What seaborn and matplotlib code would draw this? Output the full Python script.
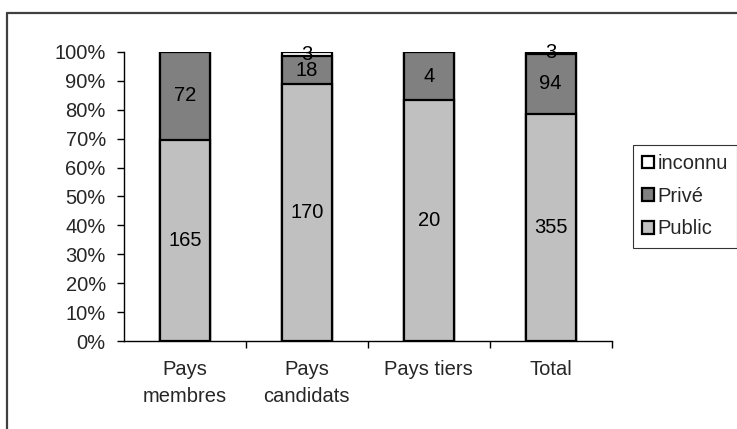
"""
Répartition Public / Privé / inconnu par groupe de pays
(barres empilées à 100 %)
"""

import numpy as np
import pandas as pd
import matplotlib
matplotlib.use("Agg")
import matplotlib.pyplot as plt
import seaborn as sns
from matplotlib.patches import Patch
from matplotlib.lines import Line2D

sns.set_style("white")
plt.rcParams["font.family"] = ["Liberation Sans", "DejaVu Sans"]

CATEGORIES = ["Pays\nmembres", "Pays\ncandidats", "Pays tiers", "Total"]
PUBLIC = [165, 170, 20, 355]
PRIVE = [72, 18, 4, 94]
INCONNU = [0, 3, 0, 3]

SERIES = ["Public", "Privé", "inconnu"]
COLORS = {"Public": "#c0c0c0", "Privé": "#808080", "inconnu": "#ffffff"}
FS = 14.5


def build_frame() -> pd.DataFrame:
    df = pd.DataFrame({"cat": CATEGORIES, "Public": PUBLIC,
                       "Privé": PRIVE, "inconnu": INCONNU})
    total = df[SERIES].sum(axis=1)
    for s in SERIES:
        df[s + "_pct"] = df[s] / total * 100
    df["cum_Public"] = df["Public_pct"]
    df["cum_Privé"] = df["cum_Public"] + df["Privé_pct"]
    df["cum_inconnu"] = df["cum_Privé"] + df["inconnu_pct"]
    return df


def main():
    df = build_frame()
    fig = plt.figure(figsize=(7.37, 4.29), dpi=100)
    ax = fig.add_axes([0.168, 0.205, 0.662, 0.674])

    # stacked: draw the cumulative tops first, the bottom series last
    for s in reversed(SERIES):
        sns.barplot(data=df, x="cat", y="cum_" + s, color=COLORS[s],
                    width=0.41, edgecolor="black", linewidth=1.6,
                    saturation=1, ax=ax, order=CATEGORIES)

    # value labels centred in each segment
    for i, row in df.iterrows():
        base = 0
        for s in SERIES:
            pct = row[s + "_pct"]
            if row[s] > 0:
                ax.text(i, base + pct / 2, f"{row[s]}", ha="center",
                        va="center", fontsize=FS, color="black")
            base += pct

    ax.set_xlim(-0.5, 3.5)
    ax.set_ylim(0, 100)
    ax.set_yticks(np.arange(0, 101, 10))
    ax.set_yticklabels([f"{v}%" for v in range(0, 101, 10)], fontsize=FS)
    ax.set_xlabel("")
    ax.set_ylabel("")
    ax.tick_params(axis="y", direction="out", length=5, width=1, pad=8,
                   left=True, color="black")
    ax.tick_params(axis="x", which="major", length=0, pad=14, labelsize=FS)
    ax.set_xticks([0.5, 1.5, 2.5, 3.5], minor=True)
    ax.tick_params(axis="x", which="minor", direction="out", length=5,
                   width=1, bottom=True, color="black")
    for lab in ax.get_xticklabels():
        lab.set_linespacing(1.5)
    for side in ["top", "right"]:
        ax.spines[side].set_visible(False)
    for side in ["left", "bottom"]:
        ax.spines[side].set_color("black")
        ax.spines[side].set_linewidth(1)

    handles = [Patch(facecolor=COLORS[s], edgecolor="black", linewidth=1.6,
                     label=s) for s in reversed(SERIES)]
    leg = fig.legend(handles=handles, loc="upper left",
                     bbox_to_anchor=(633 / 737, 1 - 145 / 429),
                     fontsize=FS, frameon=True, fancybox=False,
                     handlelength=0.6, handleheight=0.6, handletextpad=0.15,
                     labelspacing=0.68, borderpad=0.45, borderaxespad=0)
    leg.get_frame().set_edgecolor("black")
    leg.get_frame().set_linewidth(0.8)

    # chart-area border (top and left edges visible)
    fig.add_artist(Line2D([7 / 737, 1.0], [1 - 13 / 429] * 2,
                          transform=fig.transFigure, color="#404040", lw=1.6))
    fig.add_artist(Line2D([7 / 737] * 2, [0.0, 1 - 13 / 429],
                          transform=fig.transFigure, color="#404040", lw=1.6))

    fig.savefig("out.png", dpi=100)


if __name__ == "__main__":
    main()
